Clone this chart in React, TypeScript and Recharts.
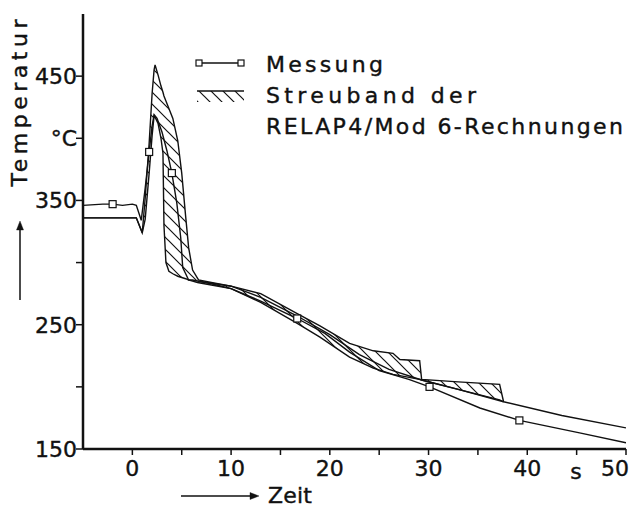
import { ComposedChart, Line, Area, Scatter, XAxis, YAxis } from 'recharts';

// Messung (measured temperature)
const measT = [-5, -3, -2, -1, 0, 0.4, 0.9, 1.3, 1.7, 2.0, 2.2, 2.5, 3.0, 3.5, 4.0, 4.5, 4.9, 5.1, 5.7, 6.6, 8, 10, 13, 16.7, 19.5, 22, 25, 28, 30.1, 35.2, 39.2, 45.3, 50];
const measY = [346, 347, 347, 346, 347, 346, 334, 360, 389, 410, 419, 416, 405, 390, 372, 348, 320, 296, 286, 284, 282, 279, 269, 255, 243, 228, 213, 206, 200, 183, 173, 163, 155];

// square markers on the measurement curve
const markT = [-2, 1.7, 4.0, 16.7, 30.1, 39.2];
const markY = [347, 389, 372, 255, 200, 173];

// Streuband der RELAP4/Mod6-Rechnungen (lower / upper envelope)
const bandT = [-5, 0.4, 1.0, 1.3, 1.7, 2.0, 2.2, 2.3, 2.6, 2.9, 3.1, 3.2, 3.4, 3.7, 4.1, 4.6, 5.0, 5.4, 5.7, 6.1, 6.7, 8, 10, 13, 16.7, 19, 22, 24.4, 26.4, 27.1, 29.1, 29.3, 33, 37.2, 37.6];
const bandLow = [336, 336, 324, 335, 372, 402, 418, 417, 412, 400, 388, 330, 300, 293, 291, 289, 288, 287, 286, 286, 285, 283, 279, 268, 251, 240, 224, 215, 210, 209, 206, 205.5, 198, 189.5, 188];
const bandHigh = [336, 336, 324, 352, 396, 436, 455, 459, 451, 442, 437, 434, 430, 424, 416, 398, 372, 337, 312, 294, 286, 284, 281, 275, 259, 249, 235, 229, 227, 222, 221, 206, 204, 202, 188];

// single calculation that runs on to 50 s
const calcT = [6.7, 10, 13, 16.7, 20, 23, 26, 29.3, 33, 37.6, 43.5, 50];
const calcY = [285, 281, 272, 257, 242, 226, 214, 205.5, 198, 188, 177, 167];

const xTicks = [0, 5, 10, 15, 20, 25, 30, 35, 40, 45, 50];
const yTicks = [150, 200, 250, 300, 350, 400, 450];
const yLabels: Record<number, string> = { 150: '150', 250: '250', 350: '350', 400: '°C', 450: '450' };

const measData = measT.map((t, i) => ({ t, v: measY[i] }));
const markData = markT.map((t, i) => ({ t, v: markY[i] }));
const bandData = bandT.map((t, i) => ({ t, range: [bandLow[i], bandHigh[i]] }));
const calcData = calcT.map((t, i) => ({ t, v: calcY[i] }));

const INK = '#111';
const FONT = '"DejaVu Sans", sans-serif';
// scanned labels are a little heavier than DejaVu Book
const textInk = { fill: INK, stroke: INK, strokeWidth: 0.4 };

function XTick(props: any) {
  const { x, y, payload } = props;
  const v = payload.value;
  if (v % 10 !== 0) return null;
  return (
    <text x={v === 50 ? x + 3 : x} y={y + 19} textAnchor={v === 50 ? 'end' : 'middle'} fontSize={22} fontFamily={FONT} {...textInk}>
      {v}
    </text>
  );
}

function YTick(props: any) {
  const { x, y, payload } = props;
  const label = yLabels[payload.value];
  if (!label) return null;
  return (
    <text x={x + 3} y={y + 8} textAnchor="end" fontSize={22} fontFamily={FONT} {...textInk}>
      {label}
    </text>
  );
}

const square = (p: any) => (
  <rect x={p.cx - 3.5} y={p.cy - 3.5} width={7} height={7} fill="#fff" stroke={INK} strokeWidth={1.2} />
);

export default function App() {
  return (
    <div style={{ position: 'absolute', left: 0, top: 0, width: 639, height: 512, background: '#fff' }}>
      <svg width={0} height={0} style={{ position: 'absolute' }}>
        <defs>
          <pattern id="hatch" patternUnits="userSpaceOnUse" width={12} height={12}>
            <path d="M-3,-3 L15,15 M-3,9 L3,15 M9,-3 L15,3" stroke={INK} strokeWidth={1.2} />
          </pattern>
        </defs>
      </svg>
      <ComposedChart width={639} height={512} margin={{ top: 14, right: 13, bottom: 0, left: 0 }}>
        <XAxis
          dataKey="t"
          type="number"
          domain={[-5, 50]}
          ticks={xTicks}
          allowDataOverflow
          height={63}
          tickSize={6}
          tick={<XTick />}
          tickLine={{ stroke: INK, strokeWidth: 1.5 }}
          axisLine={{ stroke: INK, strokeWidth: 2.5 }}
        />
        <XAxis xAxisId="top" orientation="top" type="number" domain={[-5, 50]} height={0} tick={false} tickLine={false} axisLine={{ stroke: INK, strokeWidth: 2.5 }} />
        <YAxis
          type="number"
          domain={[150, 500]}
          ticks={yTicks}
          allowDataOverflow
          width={83}
          tickSize={7}
          tick={<YTick />}
          tickLine={{ stroke: INK, strokeWidth: 1.5 }}
          axisLine={{ stroke: INK, strokeWidth: 2.5 }}
        />
        <YAxis yAxisId="right" orientation="right" type="number" domain={[150, 500]} width={0} tick={false} tickLine={false} axisLine={{ stroke: INK, strokeWidth: 2.5 }} />
        <Area data={bandData} dataKey="range" type="linear" stroke={INK} strokeWidth={1.4} fill="url(#hatch)" fillOpacity={1} dot={false} activeDot={false} isAnimationActive={false} />
        <Line data={calcData} dataKey="v" type="linear" stroke={INK} strokeWidth={1.4} dot={false} activeDot={false} isAnimationActive={false} />
        <Line data={measData} dataKey="v" type="linear" stroke={INK} strokeWidth={1.4} dot={false} activeDot={false} isAnimationActive={false} />
        <Scatter data={markData} dataKey="v" shape={square} isAnimationActive={false} />
      </ComposedChart>
      <svg width={639} height={512} style={{ position: 'absolute', left: 0, top: 0, pointerEvents: 'none' }} fontFamily={FONT} {...textInk}>
        {/* y-axis title + arrow */}
        <text transform="translate(27,103) rotate(-90)" textAnchor="middle" fontSize={22} textLength={167} lengthAdjust="spacing">
          Temperatur
        </text>
        <line x1={20} y1={300} x2={20} y2={228} stroke={INK} strokeWidth={1.5} />
        <path d="M20,221 L16.5,230 L23.5,230 Z" />
        {/* x-axis title + arrow */}
        <line x1={181} y1={496} x2={252} y2={496} stroke={INK} strokeWidth={1.5} />
        <path d="M259,496 L250,492.5 L250,499.5 Z" />
        <text x={268} y={503} fontSize={22} textLength={44} lengthAdjust="spacing">Zeit</text>
        <text x={576} y={479} fontSize={22} textAnchor="middle">s</text>
        {/* legend */}
        <line x1={199} y1={63} x2={241} y2={63} stroke={INK} strokeWidth={1.3} />
        <rect x={196} y={60} width={6} height={6} fill="#fff" stroke={INK} strokeWidth={1.2} />
        <rect x={238} y={60} width={6} height={6} fill="#fff" stroke={INK} strokeWidth={1.2} />
        <text x={266} y={72} fontSize={22} textLength={117} lengthAdjust="spacing">Messung</text>
        <rect x={197} y={91} width={47} height={11} fill="url(#hatch)" stroke="none" />
        <line x1={197} y1={91} x2={244} y2={91} stroke={INK} strokeWidth={1.3} />
        <text x={266} y={103} fontSize={22} textLength={210} lengthAdjust="spacing">Streuband der</text>
        <text x={266} y={134} fontSize={22} textLength={357} lengthAdjust="spacing">RELAP4/Mod 6-Rechnungen</text>
      </svg>
    </div>
  );
}
